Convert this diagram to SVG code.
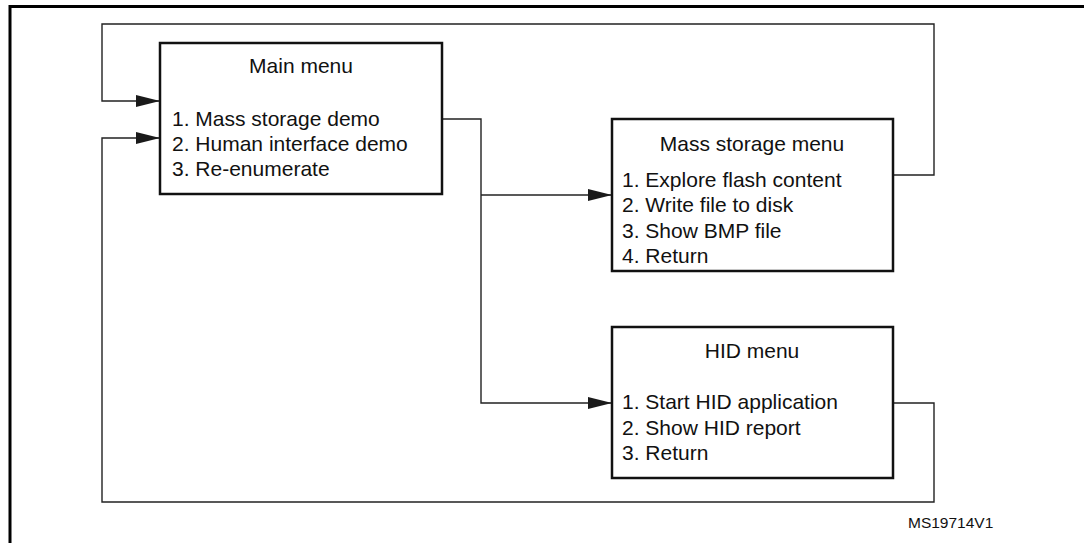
<svg xmlns="http://www.w3.org/2000/svg" width="1084" height="543" viewBox="0 0 1084 543">
<style>
.box{fill:#fff;stroke:#111;stroke-width:2.5}
.frame{fill:none;stroke:#000;stroke-width:3}
.conn{fill:none;stroke:#222;stroke-width:1.4}
text{font-family:"Liberation Sans",Arial,sans-serif;font-size:21px;fill:#111}
.t{text-anchor:middle}
.id{font-size:15.5px}
</style>
<defs>
<marker id="arr" viewBox="0 0 24 12" refX="24" refY="6" markerWidth="24" markerHeight="12" markerUnits="userSpaceOnUse" orient="auto">
<path d="M0,0 L24,6 L0,12 Z" fill="#1a1a1a"/>
</marker>
</defs>
<rect width="1084" height="543" fill="#fff"/>
<path class="frame" d="M10,543 V6.5 H1084"/>
<g id="connectors">
<path class="conn" d="M893,175 H934 V24 H102 V101 H160" marker-end="url(#arr)"/>
<path class="conn" d="M442,119 H481 V403 H612" marker-end="url(#arr)"/>
<path class="conn" d="M481,195 H612" marker-end="url(#arr)"/>
<path class="conn" d="M893,403 H934 V502 H102 V138 H160" marker-end="url(#arr)"/>
</g>
<g id="main-menu">
<rect class="box" x="160" y="43" width="282" height="151"/>
<text class="t" x="301" y="73">Main menu</text>
<text x="172" y="126">1. Mass storage demo</text>
<text x="172" y="151">2. Human interface demo</text>
<text x="172" y="176">3. Re-enumerate</text>
</g>
<g id="mass-storage-menu">
<rect class="box" x="612" y="119" width="281" height="152"/>
<text class="t" x="752" y="151">Mass storage menu</text>
<text x="622" y="187">1. Explore flash content</text>
<text x="622" y="212">2. Write file to disk</text>
<text x="622" y="238">3. Show BMP file</text>
<text x="622" y="263">4. Return</text>
</g>
<g id="hid-menu">
<rect class="box" x="612" y="327" width="281" height="151"/>
<text class="t" x="752" y="358">HID menu</text>
<text x="622" y="409">1. Start HID application</text>
<text x="622" y="435">2. Show HID report</text>
<text x="622" y="460">3. Return</text>
</g>
<text class="id" x="908" y="528">MS19714V1</text>
</svg>
